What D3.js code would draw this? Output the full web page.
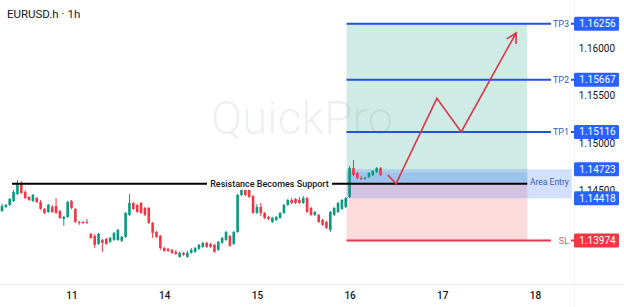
<!DOCTYPE html>
<html>
<head>
<meta charset="utf-8">
<script src="https://cdn.jsdelivr.net/npm/d3@7"></script>
<style>
  html, body { margin: 0; padding: 0; background: #fff; }
  svg { display: block; font-family: Roboto, "Noto Sans", sans-serif; }
</style>
</head>
<body>
<div id="chart"></div>
<script>
// day labels sit on the first hourly bar of each session
const dayLabels = ["11", "14", "15", "16", "17", "18"];
const dayStarts = [18, 42, 66, 90, 114, 138];
const priceTicks = [1.16, 1.155, 1.15, 1.145];

// hourly candles [open, high, low, close]
const candles = [
  [1.14285,1.14358,1.14274,1.14337],[1.14327,1.14358,1.14316,1.14348],[1.14348,1.14421,1.14337,1.14411],
  [1.14390,1.14505,1.14379,1.14484],[1.14463,1.14610,1.14453,1.14579],[1.14579,1.14600,1.14463,1.14474],
  [1.14484,1.14505,1.14411,1.14421],[1.14432,1.14442,1.14390,1.14400],[1.14390,1.14463,1.14379,1.14453],
  [1.14421,1.14432,1.14369,1.14379],[1.14379,1.14400,1.14295,1.14306],[1.14306,1.14316,1.14253,1.14264],
  [1.14274,1.14358,1.14264,1.14348],[1.14327,1.14348,1.14264,1.14274],[1.14337,1.14421,1.14253,1.14264],
  [1.14285,1.14295,1.14201,1.14211],[1.14201,1.14232,1.14127,1.14222],[1.14222,1.14390,1.14211,1.14379],
  [1.14390,1.14400,1.14306,1.14316],[1.14306,1.14316,1.14159,1.14169],[1.14169,1.14180,1.14138,1.14159],
  [1.14169,1.14180,1.14148,1.14159],[1.14169,1.14201,1.14148,1.14159],[1.14043,1.14054,1.13991,1.14001],
  [1.14022,1.14043,1.13896,1.13928],[1.13938,1.14054,1.13928,1.14043],[1.13980,1.13991,1.13854,1.13949],
  [1.13991,1.14001,1.13928,1.13938],[1.13959,1.14012,1.13949,1.14001],[1.13980,1.14064,1.13970,1.14054],
  [1.13980,1.14096,1.13970,1.14085],[1.13970,1.14022,1.13959,1.14012],[1.14012,1.14274,1.14001,1.14264],
  [1.14243,1.14463,1.14232,1.14369],[1.14369,1.14379,1.14295,1.14306],[1.14348,1.14358,1.14264,1.14274],
  [1.14369,1.14379,1.14253,1.14264],[1.14316,1.14327,1.14232,1.14243],[1.14316,1.14327,1.14148,1.14159],
  [1.14159,1.14169,1.14001,1.14054],[1.14064,1.14075,1.14001,1.14012],[1.14022,1.14033,1.13875,1.13896],
  [1.13896,1.13907,1.13854,1.13865],[1.13886,1.13896,1.13854,1.13865],[1.13875,1.13886,1.13833,1.13844],
  [1.13854,1.13875,1.13823,1.13833],[1.13802,1.13854,1.13791,1.13844],[1.13844,1.13854,1.13812,1.13823],
  [1.13802,1.13865,1.13791,1.13844],[1.13844,1.13896,1.13833,1.13875],[1.13854,1.13907,1.13844,1.13896],
  [1.13886,1.13938,1.13875,1.13928],[1.13907,1.13959,1.13896,1.13949],[1.13949,1.13959,1.13896,1.13907],
  [1.13938,1.13949,1.13896,1.13907],[1.13928,1.13938,1.13844,1.13854],[1.13875,1.13970,1.13865,1.13959],
  [1.13949,1.14012,1.13938,1.14001],[1.13980,1.14075,1.13970,1.14064],[1.14022,1.14033,1.13907,1.13917],
  [1.13938,1.14075,1.13928,1.14064],[1.14064,1.14463,1.14054,1.14453],[1.14453,1.14579,1.14442,1.14537],
  [1.14526,1.14547,1.14442,1.14453],[1.14526,1.14537,1.14421,1.14432],[1.14442,1.14453,1.14253,1.14264],
  [1.14264,1.14358,1.14253,1.14327],[1.14327,1.14369,1.14232,1.14264],[1.14264,1.14274,1.14201,1.14211],
  [1.14222,1.14232,1.14190,1.14201],[1.14169,1.14222,1.14159,1.14211],[1.14190,1.14232,1.14180,1.14222],
  [1.14211,1.14274,1.14201,1.14264],[1.14264,1.14358,1.14253,1.14348],[1.14348,1.14411,1.14337,1.14400],
  [1.14400,1.14421,1.14358,1.14369],[1.14411,1.14421,1.14358,1.14369],[1.14400,1.14432,1.14358,1.14369],
  [1.14369,1.14442,1.14358,1.14421],[1.14421,1.14432,1.14264,1.14274],[1.14316,1.14327,1.14232,1.14243],
  [1.14243,1.14285,1.14232,1.14274],[1.14243,1.14253,1.14159,1.14169],[1.14190,1.14201,1.14127,1.14138],
  [1.14169,1.14180,1.14096,1.14106],[1.14085,1.14285,1.14064,1.14274],[1.14243,1.14327,1.14232,1.14316],
  [1.14274,1.14379,1.14264,1.14369],[1.14306,1.14411,1.14295,1.14400],[1.14327,1.14432,1.14316,1.14421],
  [1.14432,1.14758,1.14421,1.14736],[1.14736,1.14821,1.14652,1.14663],[1.14684,1.14694,1.14621,1.14631],
  [1.14631,1.14652,1.14610,1.14626],[1.14631,1.14642,1.14610,1.14636],[1.14642,1.14694,1.14631,1.14684],
  [1.14663,1.14715,1.14652,1.14705],[1.14694,1.14747,1.14684,1.14736],[1.14736,1.14747,1.14652,1.14663]
];

const levelNames = ["TP3", "TP2", "TP1", "SL"];
const levelPrices = [1.16256, 1.15667, 1.15116, 1.13974];
const entryPrices = [1.14723, 1.14418];
const supportPrice = 1.1457;
const supportFrom = 2.6;
const zoneBars = [89.2, 136];
const entryBoxEnd = 147.5;

// projected path (bar index, price)
const pathBars = [99.9, 102, 112.6, 118.9, 133.1];
const pathPrices = [1.14663, 1.1457, 1.1547, 1.15116, 1.16158];

const W = 624, H = 307;
const axisX = 574, axisY = 284;
const blue = "#2962ff", red = "#f23645", up = "#089981", down = "#f23645";

const svg = d3.select("#chart").append("svg").attr("width", W).attr("height", H);

const x = d3.scaleLinear().domain([0, 138]).range([2, 535]);
const y = d3.scaleLinear().domain([1.145, 1.16]).range([190.5, 48]);

// watermark
svg.append("text")
  .attr("x", 302).attr("y", 134)
  .attr("text-anchor", "middle")
  .attr("font-size", 46).attr("font-weight", 300)
  .attr("fill", "#000").attr("fill-opacity", 0.07)
  .text("QuickPro");

// position zones
svg.append("rect")
  .attr("x", x(zoneBars[0])).attr("y", y(levelPrices[0]))
  .attr("width", x(zoneBars[1]) - x(zoneBars[0]))
  .attr("height", y(supportPrice) - y(levelPrices[0]))
  .attr("fill", "rgba(8,153,129,0.2)");
svg.append("rect")
  .attr("x", x(zoneBars[0])).attr("y", y(supportPrice))
  .attr("width", x(zoneBars[1]) - x(zoneBars[0]))
  .attr("height", y(levelPrices[3]) - y(supportPrice))
  .attr("fill", "rgba(242,54,69,0.18)");
svg.append("rect")
  .attr("x", x(zoneBars[0])).attr("y", y(entryPrices[0]))
  .attr("width", x(entryBoxEnd) - x(zoneBars[0]))
  .attr("height", y(entryPrices[1]) - y(entryPrices[0]))
  .attr("fill", "rgba(41,98,255,0.2)");
svg.append("rect")
  .attr("x", x(zoneBars[0])).attr("y", y(1.1469))
  .attr("width", x(zoneBars[1]) - x(zoneBars[0]))
  .attr("height", y(supportPrice) - y(1.1469))
  .attr("fill", "rgba(41,98,255,0.1)");

// candles
const cg = svg.append("g");
cg.selectAll("line")
  .data(candles)
  .join("line")
  .attr("x1", (d, i) => x(i)).attr("x2", (d, i) => x(i))
  .attr("y1", d => y(d[1])).attr("y2", d => y(d[2]))
  .attr("stroke", d => d[3] >= d[0] ? up : down)
  .attr("stroke-width", 1);
cg.selectAll("rect")
  .data(candles)
  .join("rect")
  .attr("x", (d, i) => x(i) - 1.3)
  .attr("width", 2.6)
  .attr("y", d => y(Math.max(d[0], d[3])))
  .attr("height", d => Math.max(1, Math.abs(y(d[0]) - y(d[3]))))
  .attr("fill", d => d[3] >= d[0] ? up : down);

// resistance becomes support
svg.append("line")
  .attr("x1", x(supportFrom)).attr("x2", x(zoneBars[1]))
  .attr("y1", y(supportPrice)).attr("y2", y(supportPrice))
  .attr("stroke", "#000").attr("stroke-width", 2);
svg.append("rect")
  .attr("x", 207).attr("y", y(supportPrice) - 6)
  .attr("width", 125).attr("height", 12).attr("fill", "#fff");
svg.append("text")
  .attr("x", 269.5).attr("y", y(supportPrice))
  .attr("dy", "0.35em").attr("text-anchor", "middle")
  .attr("font-size", 9).attr("font-weight", 500).attr("fill", "#131722")
  .text("Resistance Becomes Support");
svg.append("text")
  .attr("x", 530).attr("y", y(supportPrice) - 2)
  .attr("dy", "0.35em")
  .attr("font-size", 8.5).attr("fill", "#3b5bb5")
  .text("Area Entry");

// target / stop lines
levelNames.forEach((name, i) => {
  const c = name === "SL" ? "#e5394f" : "#2453d6";
  const yy = y(levelPrices[i]);
  svg.append("line")
    .attr("x1", x(zoneBars[0])).attr("x2", axisX)
    .attr("y1", yy).attr("y2", yy)
    .attr("stroke", c).attr("stroke-width", 2);
  svg.append("rect")
    .attr("x", 551).attr("y", yy - 6).attr("width", 20).attr("height", 12)
    .attr("fill", "#fff");
  svg.append("text")
    .attr("x", 569).attr("y", yy).attr("dy", "0.35em")
    .attr("text-anchor", "end")
    .attr("font-size", 9)
    .attr("fill", name === "SL" ? "#e0596b" : "#3457c4")
    .text(name);
});

// projected move
const pts = pathBars.map((b, i) => [x(b), y(pathPrices[i])]);
svg.append("path")
  .attr("d", d3.line()(pts))
  .attr("fill", "none").attr("stroke", "#dc3548").attr("stroke-width", 1.6)
  .attr("stroke-linejoin", "miter");
const tip = pts[pts.length - 1], prev = pts[pts.length - 2];
const ang = Math.atan2(tip[1] - prev[1], tip[0] - prev[0]);
const arm = a => [tip[0] - 11 * Math.cos(ang + a), tip[1] - 11 * Math.sin(ang + a)];
svg.append("path")
  .attr("d", d3.line()([arm(0.5), tip, arm(-0.5)]))
  .attr("fill", "none").attr("stroke", "#dc3548").attr("stroke-width", 1.6);

// axes
svg.append("line")
  .attr("x1", 0).attr("x2", W).attr("y1", axisY + 0.5).attr("y2", axisY + 0.5)
  .attr("stroke", "#e6e8ee");
svg.append("line")
  .attr("x1", axisX + 0.5).attr("x2", axisX + 0.5).attr("y1", 0).attr("y2", H)
  .attr("stroke", "#f0f3fa");

const gx = svg.append("g")
  .attr("transform", `translate(0,${axisY})`)
  .call(d3.axisBottom(x).tickValues(dayStarts)
    .tickFormat((d, i) => dayLabels[i]).tickSize(0).tickPadding(8));
gx.select(".domain").remove();
gx.attr("font-family", null).attr("font-size", 10);
gx.selectAll("text").attr("fill", "#131722").attr("font-weight", 500);

const gy = svg.append("g")
  .attr("transform", `translate(${axisX},0)`)
  .call(d3.axisRight(y).tickValues(priceTicks)
    .tickFormat(d3.format(".5f")).tickSize(0));
gy.select(".domain").remove();
gy.attr("font-family", null).attr("font-size", 10);
gy.selectAll("text").attr("x", 41).attr("text-anchor", "end").attr("fill", "#131722");

// price tags
const tagPrices = levelPrices.concat(entryPrices);
const tagColors = levelNames.map(n => n === "SL" ? red : blue).concat([blue, blue]);
const tags = svg.append("g").selectAll("g")
  .data(tagPrices)
  .join("g")
  .attr("transform", d => `translate(${axisX},${y(d)})`);
tags.append("rect")
  .attr("x", 0).attr("y", -7).attr("width", 45).attr("height", 14).attr("rx", 1.5)
  .attr("fill", (d, i) => tagColors[i]);
tags.append("text")
  .attr("x", 23.5).attr("dy", "0.35em").attr("text-anchor", "middle")
  .attr("font-size", 10).attr("fill", "#fff")
  .text(d => d3.format(".5f")(d));

// title
svg.append("text")
  .attr("x", 7).attr("y", 18)
  .attr("font-size", 11.5).attr("fill", "#131722")
  .text("EURUSD.h \u00b7 1h");
</script>
</body>
</html>
